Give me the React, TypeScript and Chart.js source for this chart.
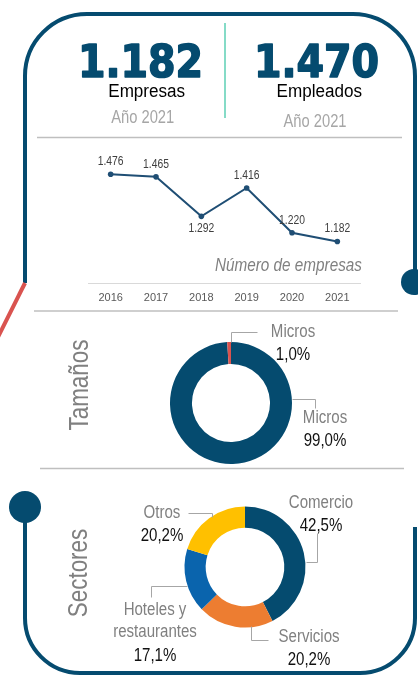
import React, { useEffect, useRef } from 'react';
import { Chart, registerables } from 'chart.js';

Chart.register(...registerables);

// ---------- DATA ----------
const years = ['2016', '2017', '2018', '2019', '2020', '2021'];
const empresasSerie = [1476, 1465, 1292, 1416, 1220, 1182];
const serieName = 'Número de empresas';
const yRange = [1000, 1600];

const kpiValues = [1182, 1470];
const kpiNames = ['Empresas', 'Empleados'];
const kpiYear = 'Año 2021';

const tamanosTitle = 'Tamaños';
const tamanosLabels = [['Micros'], ['Micros']];
const tamanosValues = [99.0, 1.0];

const sectoresTitle = 'Sectores';
const sectoresLabels = [['Comercio'], ['Servicios'], ['Hoteles y', 'restaurantes'], ['Otros']];
const sectoresValues = [42.5, 20.2, 17.1, 20.2];

// ---------- STYLE / LAYOUT ----------
const DARK = '#054b6f';
const FONT = "'Liberation Sans', Arial, sans-serif";
const lineLabelSide = [-1, -1, 1, -1, -1, -1];

const tamanosColors = [DARK, '#d9534f'];
const sectoresColors = [DARK, '#ed7d31', '#0a64ad', '#ffc000'];

// label layout relative to doughnut centre: text x, text first-line y, leader points
const tamanosLayout = [
  { tx: 94, ty: 15, lead: [[61, -4], [84, -4], [84, 5]] },
  { tx: 62, ty: -71, lead: [[0, -61], [0, -71], [26, -71]] },
];
const sectoresLayout = [
  { tx: 76, ty: -64, lead: [[61, -5], [72, -5], [72, -34]] },
  { tx: 64, ty: 70, lead: [[6, 59], [6, 73], [23, 73]] },
  { tx: -90, ty: 43, lead: [[-58, 19], [-94, 19], [-94, 30]] },
  { tx: -83, ty: -54, lead: [[-33, -50], [-33, -54], [-57, -54]] },
];

const fmtThousands = (n: number) => n.toString().replace(/\B(?=(\d{3})+(?!\d))/g, '.');
const fmtPct = (v: number) => v.toFixed(1).replace('.', ',') + '%';

function drawText(ctx: CanvasRenderingContext2D, text: string, x: number, y: number, font: string, color: string, sx: number, align: CanvasTextAlign = 'center') {
  ctx.save();
  ctx.translate(x, y);
  ctx.scale(sx, 1);
  ctx.font = font;
  ctx.fillStyle = color;
  ctx.textAlign = align;
  ctx.textBaseline = 'middle';
  ctx.fillText(text, 0, 0);
  ctx.restore();
}

const lineLabelsPlugin = {
  id: 'lineLabels',
  afterDatasetsDraw(chart: any) {
    const ctx = chart.ctx as CanvasRenderingContext2D;
    const meta = chart.getDatasetMeta(0);
    const ds = chart.data.datasets[0];
    meta.data.forEach((pt: any, i: number) => {
      drawText(ctx, fmtThousands(ds.data[i]), pt.x, pt.y + lineLabelSide[i] * 12.5, `12px ${FONT}`, '#404040', 0.86);
    });
    const ca = chart.chartArea;
    drawText(ctx, ds.label, ca.right + 2, ca.bottom - 17, `italic 18px ${FONT}`, '#808080', 0.85, 'right');
  },
};

function makeDoughnutLabels(layout: any[]) {
  return {
    id: 'donutLabels',
    afterDraw(chart: any) {
      const ctx = chart.ctx as CanvasRenderingContext2D;
      const meta = chart.getDatasetMeta(0);
      const arc0 = meta.data[0];
      const cx = arc0.x, cy = arc0.y;
      const labels = chart.data.labels;
      const values = chart.data.datasets[0].data;
      layout.forEach((l, i) => {
        ctx.save();
        ctx.strokeStyle = '#a6a6a6';
        ctx.lineWidth = 1;
        ctx.beginPath();
        l.lead.forEach((p: number[], k: number) => {
          const x = Math.round(cx + p[0]) + 0.5, y = Math.round(cy + p[1]) + 0.5;
          if (k === 0) ctx.moveTo(x, y); else ctx.lineTo(x, y);
        });
        ctx.stroke();
        ctx.restore();
        const lines: string[] = labels[i];
        let y = cy + l.ty;
        lines.forEach((t) => {
          drawText(ctx, t, cx + l.tx, y, `17.5px ${FONT}`, '#808080', 0.86);
          y += 22.5;
        });
        drawText(ctx, fmtPct(values[i]), cx + l.tx, y + 1, `17.5px ${FONT}`, '#111111', 0.86);
      });
    },
  };
}

function LineChart() {
  const ref = useRef<HTMLCanvasElement>(null);
  useEffect(() => {
    const chart = new Chart(ref.current!, {
      type: 'line',
      data: {
        labels: years,
        datasets: [{
          label: serieName,
          data: empresasSerie,
          borderColor: '#1f4e74',
          backgroundColor: '#1f4e74',
          borderWidth: 2,
          pointRadius: 2.8,
          pointBackgroundColor: '#1f4e74',
          pointBorderWidth: 0,
          tension: 0,
        }],
      },
      options: {
        animation: false,
        responsive: false,
        events: [],
        layout: { padding: { left: 28, right: 30, top: 6, bottom: 0 } },
        plugins: { legend: { display: false }, tooltip: { enabled: false } },
        scales: {
          y: { display: false, min: yRange[0], max: yRange[1] },
          x: {
            offset: true,
            grid: { display: false, drawTicks: false },
            border: { display: true, color: '#d9d9d9', width: 1 },
            ticks: { color: '#595959', font: { family: FONT, size: 11 }, padding: 8, maxRotation: 0 },
            afterFit: (s: any) => { s.height = 27; },
          },
        },
      },
      plugins: [lineLabelsPlugin],
    } as any);
    return () => chart.destroy();
  }, []);
  return <canvas ref={ref} width={330} height={170} style={{ position: 'absolute', left: 60, top: 140 }} />;
}

function Donut(props: { labels: string[][]; values: number[]; colors: string[]; layout: any[]; top: number; height: number; padding: any; radius: number; cutout: string }) {
  const ref = useRef<HTMLCanvasElement>(null);
  useEffect(() => {
    const chart = new Chart(ref.current!, {
      type: 'doughnut',
      data: {
        labels: props.labels,
        datasets: [{ data: props.values, backgroundColor: props.colors, borderWidth: 0 }],
      },
      options: {
        animation: false,
        responsive: false,
        events: [],
        radius: props.radius,
        cutout: props.cutout,
        layout: { padding: props.padding },
        plugins: { legend: { display: false }, tooltip: { enabled: false } },
      },
      plugins: [makeDoughnutLabels(props.layout)],
    } as any);
    return () => chart.destroy();
  }, []);
  return <canvas ref={ref} width={418} height={props.height} style={{ position: 'absolute', left: 0, top: props.top }} />;
}

function Frame() {
  const R1 = 62;
  const R2 = 55;
  const top = `M25 283 L25 ${14 + R1} A${R1} ${R1} 0 0 1 ${25 + R1} 14 L${415 - R1} 14 A${R1} ${R1} 0 0 1 415 ${14 + R1} L415 272`;
  const bottom = `M25 507 L25 ${673 - R2} A${R2} ${R2} 0 0 0 ${25 + R2} 673 L${415 - R2} 673 A${R2} ${R2} 0 0 0 415 ${673 - R2} L415 527`;
  const bigNum = { fontFamily: "'DejaVu Sans', sans-serif", fontWeight: 700, fontSize: 44, fill: DARK, stroke: DARK, strokeWidth: 1.6, strokeLinejoin: 'round' } as any;
  const name = { fontFamily: FONT, fontSize: 19, fill: '#000' } as any;
  const yr = { fontFamily: FONT, fontSize: 18, fill: '#a6a6a6' } as any;
  const ttl = { fontFamily: FONT, fontSize: 28, fill: '#808080' } as any;
  return (
    <svg width={418} height={676} style={{ position: 'absolute', left: 0, top: 0, pointerEvents: 'none' }}>
      <path d={top} fill="none" stroke={DARK} strokeWidth={4} />
      <circle cx={414} cy={282} r={13} fill={DARK} />
      <line x1={25} y1={283} x2={-6} y2={345} stroke="#d9534f" strokeWidth={4} />
      <path d={bottom} fill="none" stroke={DARK} strokeWidth={4} />
      <circle cx={25} cy={507} r={16} fill={DARK} />
      <line x1={225} y1={23} x2={225} y2={118} stroke="#5ccfb5" strokeWidth={1.5} />
      <line x1={37} y1={137.5} x2={402} y2={137.5} stroke="#bfbfbf" strokeWidth={1.5} />
      <line x1={34} y1={311} x2={398} y2={311} stroke="#bfbfbf" strokeWidth={1.5} />
      <line x1={40} y1={468.5} x2={404} y2={468.5} stroke="#bfbfbf" strokeWidth={1.5} />
      <text transform="translate(140.5 77) scale(0.9 1)" textAnchor="middle" style={bigNum}>{fmtThousands(kpiValues[0])}</text>
      <text transform="translate(316.5 77) scale(0.9 1)" textAnchor="middle" style={bigNum}>{fmtThousands(kpiValues[1])}</text>
      <text transform="translate(146.7 96.5) scale(0.9 1)" textAnchor="middle" style={name}>{kpiNames[0]}</text>
      <text transform="translate(319.3 96.5) scale(0.9 1)" textAnchor="middle" style={name}>{kpiNames[1]}</text>
      <text transform="translate(142.7 123) scale(0.82 1)" textAnchor="middle" style={yr}>{kpiYear}</text>
      <text transform="translate(315 126.5) scale(0.82 1)" textAnchor="middle" style={yr}>{kpiYear}</text>
      <text transform="translate(88 385) rotate(-90) scale(0.8 1)" textAnchor="middle" style={ttl}>{tamanosTitle}</text>
      <text transform="translate(87 573) rotate(-90) scale(0.8 1)" textAnchor="middle" style={ttl}>{sectoresTitle}</text>
    </svg>
  );
}

export default function App() {
  return (
    <div style={{ position: 'fixed', left: 0, top: 0, width: 418, height: 676, background: '#fff', overflow: 'hidden' }}>
      <LineChart />
      <Donut labels={tamanosLabels} values={tamanosValues} colors={tamanosColors} layout={tamanosLayout}
        top={315} height={150} padding={{ left: 44, top: 26 }} radius={61} cutout="64%" />
      <Donut labels={sectoresLabels} values={sectoresValues} colors={sectoresColors} layout={sectoresLayout}
        top={480} height={196} padding={{ left: 72, bottom: 22 }} radius={60.5} cutout="65%" />
      <Frame />
    </div>
  );
}
